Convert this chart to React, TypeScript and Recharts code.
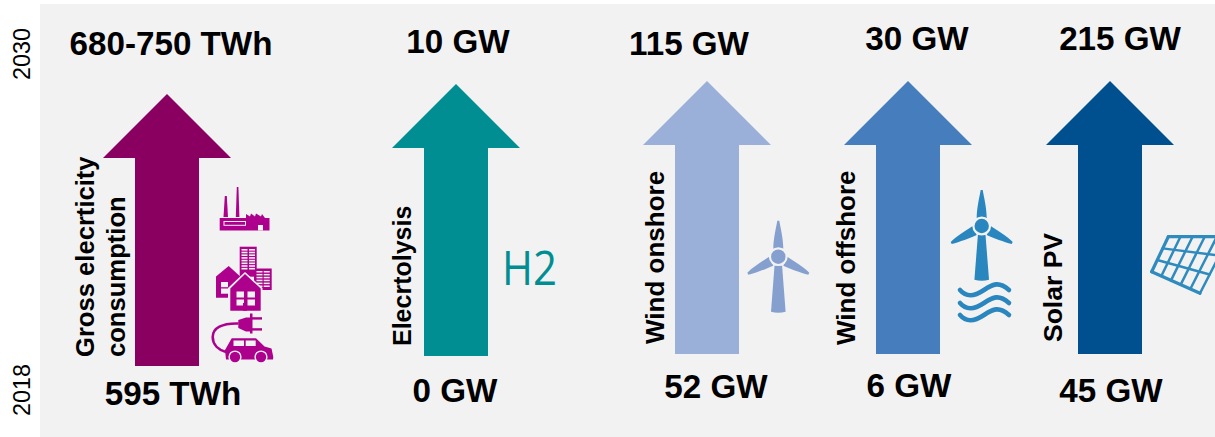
import React from "react";
import { Bar, BarChart, LabelList, XAxis, YAxis } from "recharts";

// Planning horizon shared by every arrow and the year axis.
const YEARS = [2018, 2030];

const categories = ["Gross electricity", "Electrolysis", "Wind onshore", "Wind offshore", "Solar PV"];
const startValues = ["595 TWh", "0 GW", "52 GW", "6 GW", "45 GW"];
const endValues = ["680-750 TWh", "10 GW", "115 GW", "30 GW", "215 GW"];

const FONT = '"Liberation Sans", Arial, sans-serif';
const BG = "#f2f2f2";
const MAGENTA = "#ad008c";
const WIDTH = 1215;
const HEIGHT = 437;

// Placement of each small chart on the page, and of its labels around the arrow.
const panels = [
  { center: 167, half: 127, top: 94, bottom: 366, fill: "#8a0061", endDx: 4, endDy: -39, startDx: 6, startDy: 39 },
  { center: 456, half: 116, top: 84, bottom: 356, fill: "#008e92", endDx: 2, endDy: -31, startDx: -1, startDy: 46 },
  { center: 707, half: 110, top: 81, bottom: 354, fill: "#9ab0d9", endDx: -18, endDy: -26, startDx: 9, startDy: 44 },
  { center: 908, half: 110, top: 81, bottom: 354, fill: "#467dbd", endDx: 9, endDy: -31, startDx: 1, startDy: 43 },
  { center: 1110, half: 105, top: 81, bottom: 354, fill: "#00508f", endDx: 10, endDy: -31, startDx: 1, startDy: 48 },
];

const HEAD_HEIGHT = 64;
const SHAFT_WIDTH = 64;
const HEAD_WIDTH = 128;

function Arrow({ x, y, width, height, fill }: any) {
  const cx = x + width / 2;
  const s = SHAFT_WIDTH / 2;
  const points = [
    [cx, y],
    [x + width, y + HEAD_HEIGHT],
    [cx + s, y + HEAD_HEIGHT],
    [cx + s, y + height],
    [cx - s, y + height],
    [cx - s, y + HEAD_HEIGHT],
    [x, y + HEAD_HEIGHT],
  ]
    .map((p) => p.join(","))
    .join(" ");
  return <polygon points={points} fill={fill} />;
}

function ValueLabel({ x, y, width, height, value, dx, dy, atTop }: any) {
  return (
    <text
      x={x + width / 2 + dx}
      y={(atTop ? y : y + height) + dy}
      textAnchor="middle"
      fontFamily={FONT}
      fontWeight={700}
      fontSize={33.2}
      fill="#000"
    >
      {value}
    </text>
  );
}

function SideText({ x, y, size = 25.6, children }: any) {
  return (
    <text
      transform={`translate(${x} ${y}) rotate(-90)`}
      fontFamily={FONT}
      fontWeight={700}
      fontSize={size}
      fill="#000"
    >
      {children}
    </text>
  );
}

function Windows({ x, y, cols, rows, w, h, gx, gy }: any) {
  const cells = [];
  for (let r = 0; r < rows; r++) {
    for (let c = 0; c < cols; c++) {
      cells.push(<rect key={`${r}-${c}`} x={x + c * (w + gx)} y={y + r * (h + gy)} width={w} height={h} fill={BG} />);
    }
  }
  return <g>{cells}</g>;
}

function ConsumptionIcons() {
  return (
    <g fill={MAGENTA}>
      {/* factory */}
      <polygon points="223.5,217 224.8,196 226.8,196 228,217" />
      <polygon points="235.8,217 236.8,187 238.4,187 239.4,217" />
      <polygon points="219.7,218 246,218 246,214 250,216.5 251,213.5 255,216.5 256,213.5 261,216.5 262,214 265,218 269.5,218 269.5,230.5 219.7,230.5" />
      <rect x={224} y={221.5} width={21.5} height={3.8} fill="none" stroke={BG} strokeWidth={1} />
      <rect x={258} y={225} width={5} height={5.5} fill={BG} />
      {/* office blocks */}
      <rect x={239.7} y={246.7} width={17} height={30} />
      <rect x={254} y={268.5} width={17.7} height={21.5} />
      <Windows x={241.5} y={249} cols={2} rows={8} w={6} h={1.6} gx={1.5} gy={1.1} />
      <Windows x={256.5} y={271} cols={2} rows={6} w={6} h={1.5} gx={1.2} gy={1.4} />
      {/* houses */}
      <polygon points="228.7,266 243,279 243,297.7 216,297.7 216,276.5" />
      <Windows x={221} y={282} cols={1} rows={2} w={7} h={5.2} gx={0} gy={1.3} />
      <polygon points="245,272 262.5,288 262.5,312.5 228,312.5 228,288" fill={BG} />
      <polygon points="245,274 260.7,288.5 260.7,310.7 230.3,310.7 230.3,288.5" />
      <Windows x={236.5} y={291.5} cols={2} rows={2} w={7.5} h={6} gx={3.5} gy={2} />
      <rect x={243} y={303} width={4} height={7.7} />
      {/* plug and car */}
      <path d="M238.5 323.5 C 222 323, 212.7 328, 212.7 337 C 212.7 345, 219 350, 226 352" fill="none" stroke={MAGENTA} strokeWidth={2.6} />
      <polygon points="238.3,320 246,317.5 250,317.5 250,331.5 246,331.5 238.3,328" />
      <rect x={250} y={313.5} width={2.5} height={20} />
      <rect x={252} y={317.2} width={10} height={2.4} />
      <rect x={252} y={328.2} width={10} height={2.4} />
      <path d="M231.7 338.3 L256 338.3 L264.5 346.5 L271.5 348.5 L273.3 357 L273 359.5 L226 359.5 L225 350 L227 346.5 Z" />
      <rect x={233.5} y={340.5} width={10.5} height={5.5} fill={BG} />
      <rect x={245.7} y={340.5} width={10} height={5.5} fill={BG} />
      <circle cx={235} cy={357} r={6.6} fill={BG} />
      <circle cx={261} cy={357} r={6.6} fill={BG} />
      <circle cx={235} cy={357} r={5.2} />
      <circle cx={261} cy={357} r={5.2} />
    </g>
  );
}

// Three-bladed turbine with the hub at (cx, cy); blades bulge slightly near the hub.
function Turbine({ cx, cy, fill, bottom }: any) {
  const t = (dx: number, dy: number) => `${cx + dx} ${cy + dy}`;
  return (
    <g fill={fill}>
      <path d={`M${t(-5, -8)} C ${t(-5, -18)} ${t(-2, -30)} ${t(-1, -36)} L ${t(1, -36)} C ${t(2, -30)} ${t(5, -18)} ${t(5, -8)} Z`} />
      <path d={`M${t(-9, 0)} C ${t(-17, 5)} ${t(-26, 11)} ${t(-31, 16)} L ${t(-30, 18)} C ${t(-22, 16)} ${t(-12, 12)} ${t(-5, 9)} Z`} />
      <path d={`M${t(9, 0)} C ${t(17, 5)} ${t(26, 11)} ${t(31, 16)} L ${t(30, 18)} C ${t(22, 16)} ${t(12, 12)} ${t(5, 9)} Z`} />
      <path d={`M${t(-3.8, 9)} L ${t(3.8, 9)} L ${cx + 7.3} ${bottom - 1} Q ${cx} ${bottom + 1} ${cx - 7.3} ${bottom - 1} Z`} />
      <circle cx={cx} cy={cy} r={9.4} fill={BG} />
      <circle cx={cx} cy={cy} r={7.2} />
    </g>
  );
}

function Waves() {
  const rows = [290, 303, 315];
  return (
    <g fill="none" stroke="#2a86bf" strokeWidth={4.6} strokeLinecap="round">
      {rows.map((y) => (
        <path key={y} d={`M960 ${y} C 967 ${y + 8}, 975 ${y + 6}, 984 ${y} S 999 ${y - 9}, 1009 ${y}`} />
      ))}
    </g>
  );
}

function SolarPanel() {
  const tl = [1168.3, 236.7];
  const tr = [1229, 236.7];
  const bl = [1151.7, 271.7];
  const br = [1200, 293.3];
  const at = (u: number, v: number) => {
    const top = [tl[0] + (tr[0] - tl[0]) * u, tl[1] + (tr[1] - tl[1]) * u];
    const low = [bl[0] + (br[0] - bl[0]) * u, bl[1] + (br[1] - bl[1]) * u];
    return [top[0] + (low[0] - top[0]) * v, top[1] + (low[1] - top[1]) * v];
  };
  const lines = [];
  for (let c = 0; c <= 5; c++) {
    const a = at(c / 5, 0);
    const b = at(c / 5, 1);
    lines.push(<line key={`c${c}`} x1={a[0]} y1={a[1]} x2={b[0]} y2={b[1]} strokeWidth={c === 0 ? 3.2 : 2.5} />);
  }
  for (let r = 0; r <= 3; r++) {
    const a = at(0, r / 3);
    const b = at(1, r / 3);
    lines.push(<line key={`r${r}`} x1={a[0]} y1={a[1]} x2={b[0]} y2={b[1]} strokeWidth={r === 0 || r === 3 ? 3.2 : 2.5} />);
  }
  return (
    <g stroke="#2f8bbd" strokeLinecap="round">
      {lines}
    </g>
  );
}

// Side captions and pictograms of each panel, given in page coordinates.
const decorations = [
  <g key="a">
    <SideText x={94} y={357}>Gross elecrticity</SideText>
    <SideText x={125} y={357}>consumption</SideText>
    <ConsumptionIcons />
  </g>,
  <g key="b">
    <SideText x={411} y={346} size={25}>Elecrtolysis</SideText>
    <text x={502} y={284.5} fontFamily='"Open Sans", sans-serif' fontSize={47} textLength={55} lengthAdjust="spacingAndGlyphs" fill="#008e92">H2</text>
  </g>,
  <g key="c">
    <SideText x={664} y={344} size={26}>Wind onshore</SideText>
    <Turbine cx={778.3} cy={256.7} fill="#85a0cf" bottom={312.7} />
  </g>,
  <g key="d">
    <SideText x={855} y={345} size={26}>Wind offshore</SideText>
    <Turbine cx={981.7} cy={226} fill="#2a86bf" bottom={280.7} />
    <Waves />
  </g>,
  <g key="e">
    <SideText x={1062} y={342} size={26.5}>Solar PV</SideText>
    <SolarPanel />
  </g>,
];

function YearTick({ x, y, payload }: any) {
  return (
    <text
      transform={`translate(${x} ${y}) rotate(-90)`}
      textAnchor="middle"
      fontFamily={FONT}
      fontSize={23.4}
      fill="#000"
    >
      {payload.value}
    </text>
  );
}

function YearAxis() {
  return (
    <BarChart
      width={WIDTH}
      height={HEIGHT}
      data={[{ year: YEARS }]}
      margin={{ top: 54, right: 0, bottom: 47, left: 0 }}
      style={{ position: "absolute", left: 0, top: 0 }}
    >
      <XAxis dataKey="year" hide />
      <YAxis
        type="number"
        domain={YEARS}
        ticks={YEARS}
        width={40}
        axisLine={false}
        tickLine={false}
        tickMargin={0}
        interval={0}
        tick={(props: any) => <YearTick {...props} x={30} />}
      />
      <Bar dataKey="year" fill="none" isAnimationActive={false} />
    </BarChart>
  );
}

function ArrowPanel({ index }: { index: number }) {
  const p = panels[index];
  const left = p.center - p.half;
  const data = [
    { category: categories[index], span: YEARS, start: startValues[index], end: endValues[index] },
  ];
  return (
    <BarChart
      width={p.half * 2}
      height={HEIGHT}
      data={data}
      margin={{ top: p.top, right: 0, bottom: HEIGHT - p.bottom, left: 0 }}
      style={{ position: "absolute", left, top: 0 }}
    >
      <XAxis dataKey="category" hide />
      <YAxis type="number" domain={YEARS} hide />
      <Bar dataKey="span" barSize={HEAD_WIDTH} fill={p.fill} shape={Arrow} isAnimationActive={false}>
        <LabelList
          dataKey="end"
          content={(props: any) => <ValueLabel {...props} dx={p.endDx} dy={p.endDy} atTop />}
        />
        <LabelList
          dataKey="start"
          content={(props: any) => <ValueLabel {...props} dx={p.startDx} dy={p.startDy} />}
        />
      </Bar>
      <g transform={`translate(${-left} 0)`}>{decorations[index]}</g>
    </BarChart>
  );
}

export default function App() {
  return (
    <div
      style={{
        position: "absolute",
        left: 0,
        top: 0,
        width: WIDTH,
        height: HEIGHT,
        background: "#fff",
        overflow: "hidden",
      }}
    >
      <div style={{ position: "absolute", left: 40, top: 4, right: 0, bottom: 0, background: BG }} />
      <YearAxis />
      {panels.map((_, i) => (
        <ArrowPanel key={i} index={i} />
      ))}
    </div>
  );
}
